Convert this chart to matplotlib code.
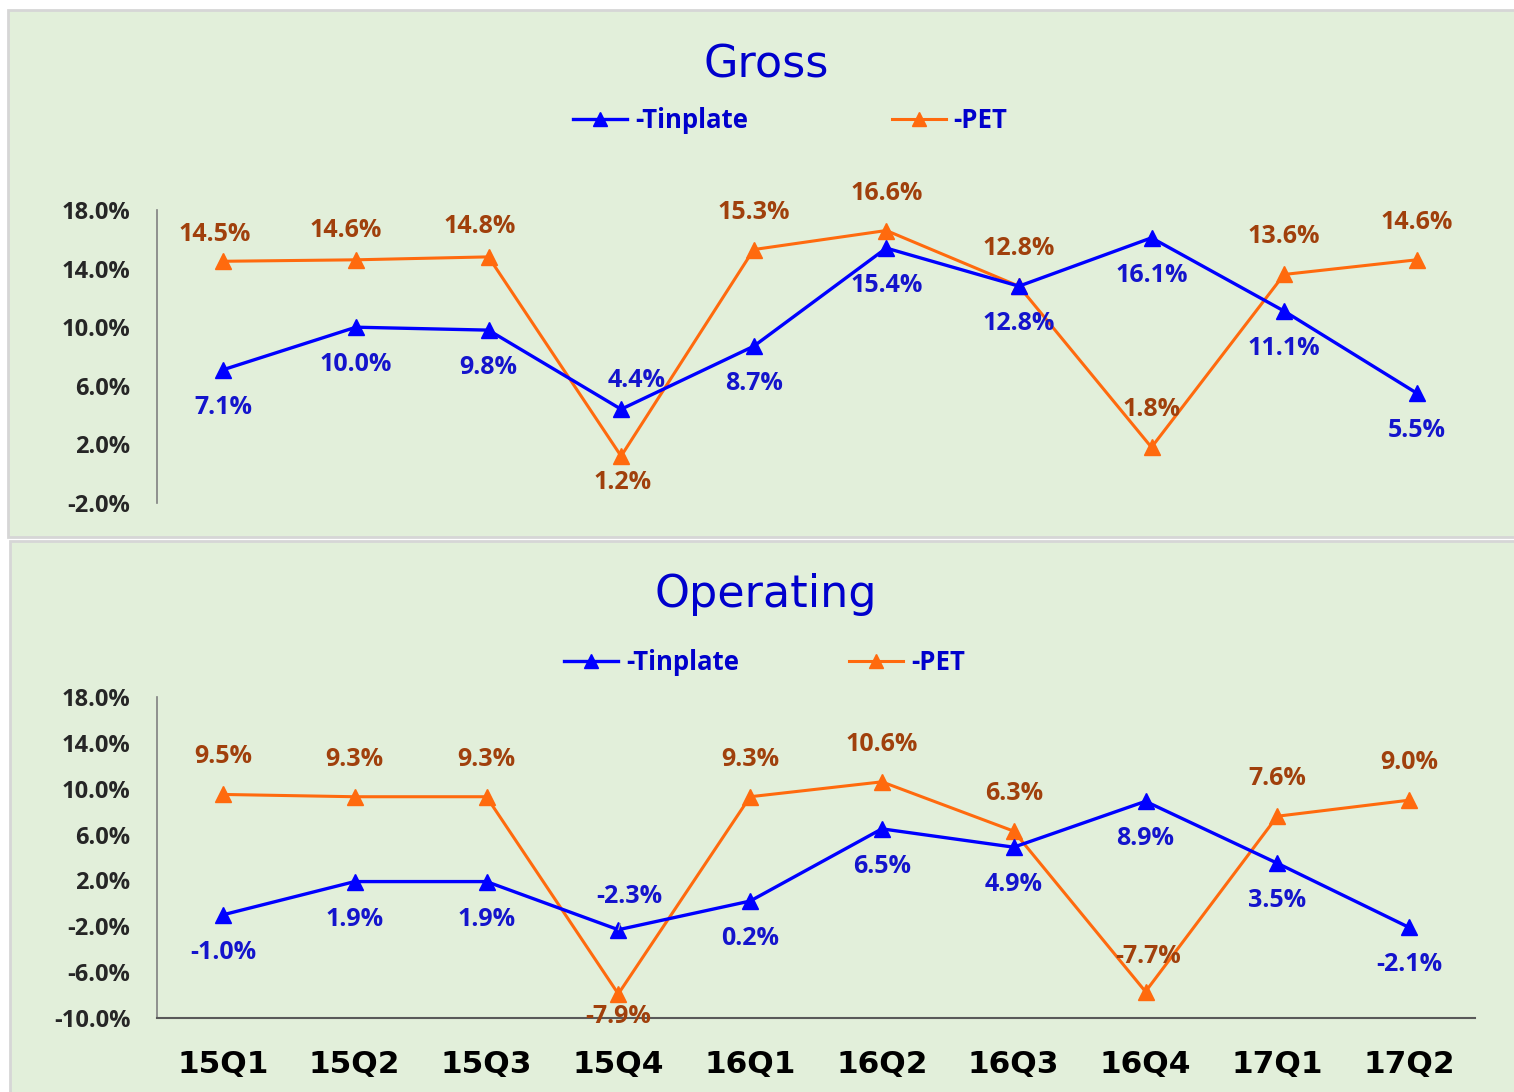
import matplotlib
matplotlib.use("Agg")
import matplotlib.pyplot as plt
from matplotlib.lines import Line2D
from matplotlib.patches import Rectangle

# data
quarters = ["15Q1", "15Q2", "15Q3", "15Q4", "16Q1", "16Q2", "16Q3", "16Q4", "17Q1", "17Q2"]
gross_tinplate = [7.1, 10.0, 9.8, 4.4, 8.7, 15.4, 12.8, 16.1, 11.1, 5.5]
gross_pet = [14.5, 14.6, 14.8, 1.2, 15.3, 16.6, 12.8, 1.8, 13.6, 14.6]
op_tinplate = [-1.0, 1.9, 1.9, -2.3, 0.2, 6.5, 4.9, 8.9, 3.5, -2.1]
op_pet = [9.5, 9.3, 9.3, -7.9, 9.3, 10.6, 6.3, -7.7, 7.6, 9.0]
gross_ticks = [-2, 2, 6, 10, 14, 18]
op_ticks = [-10, -6, -2, 2, 6, 10, 14, 18]

# label offsets (points) - most sit below/above, a few are moved
DN = (0, -27)
UP = (0, 27)
gross_tin_off = [DN, DN, DN, (11, 21), DN, DN, DN, DN, DN, DN]
gross_pet_off = [(-6, 19), (-7, 21), (-6, 22), (1, -19), UP, UP, UP, UP, UP, UP]
op_tin_off = [DN, DN, DN, (8, 24), DN, DN, DN, DN, DN, DN]
op_pet_off = [UP, UP, UP, (0, -16), UP, UP, UP, (2, 25), UP, UP]

BLUE = "#0000FF"
BLUE_TXT = "#1414CC"
ORANGE = "#FF6A0E"
BROWN = "#A0400C"
BG = "#E2EFDA"
NUM_FONT = "Open Sans"

W, H = 1514, 1092
fig = plt.figure(figsize=(W / 100, H / 100), dpi=100, facecolor="white")

# panel backgrounds
fig.patches.append(Rectangle((8 / W, 1 - 537 / H), 1.2, 527 / H, transform=fig.transFigure,
                             facecolor=BG, edgecolor="#D6D6D6", lw=2, zorder=-5))
fig.patches.append(Rectangle((10 / W, 1 - 1100 / H), 1.2, 559 / H, transform=fig.transFigure,
                             facecolor=BG, edgecolor="#D6D6D6", lw=2, zorder=-5))


def add_labels(ax, vals, offs, color):
    for i, v in enumerate(vals):
        dx, dy = offs[i]
        # moved labels get a thin leader line like the original
        arrow = None
        if dx > 5 and dy > 22:
            arrow = dict(arrowstyle="-", color="#A8A8A8", lw=0.9, shrinkA=9, shrinkB=6)
        ax.annotate(f"{v:.1f}%", (i, v), xytext=(dx, dy), textcoords="offset points",
                    ha="center", va="center", color=color, fontsize=18,
                    fontweight="bold", family=NUM_FONT, zorder=5, arrowprops=arrow)


def draw_panel(ax, tin, pet, ticks, tin_off, pet_off, title, title_y, leg_x, leg_y, colspace):
    x = range(len(quarters))
    ax.set_facecolor("none")
    ax.plot(x, tin, color=BLUE, lw=2.4, marker="^", ms=11, zorder=3, clip_on=False)
    ax.plot(x, pet, color=ORANGE, lw=2.2, marker="^", ms=11, zorder=2, clip_on=False)
    add_labels(ax, tin, tin_off, BLUE_TXT)
    add_labels(ax, pet, pet_off, BROWN)
    ax.set_xlim(-0.5, len(quarters) - 0.5)
    ax.set_ylim(ticks[0], ticks[-1])
    ax.set_yticks(ticks)
    ax.set_yticklabels([f"{t:.1f}%" for t in ticks], fontsize=17, fontweight="bold",
                       family=NUM_FONT, color="#262626")
    ax.tick_params(axis="y", length=0, pad=19)
    for s in ["top", "right"]:
        ax.spines[s].set_visible(False)
    ax.spines["left"].set_color("#808080")
    ax.spines["left"].set_linewidth(1.2)
    fig.text(0.506, title_y, title, ha="center", va="center", fontsize=32,
             color="#0000CC", family="DejaVu Sans")
    handles = [Line2D([], [], color=BLUE, lw=2.4, marker="^", ms=10),
               Line2D([], [], color=ORANGE, lw=2.2, marker="^", ms=10)]
    leg = ax.legend(handles, ["-Tinplate", "-PET"], ncol=2, loc="center",
                    bbox_to_anchor=(leg_x, leg_y), bbox_transform=fig.transFigure,
                    frameon=False, handlelength=2.1, handletextpad=0.3,
                    columnspacing=colspace,
                    prop={"family": NUM_FONT, "weight": "bold", "size": 18.5})
    for t in leg.get_texts():
        t.set_color("#0000CC")


ax1 = fig.add_axes([157 / W, 1 - 503 / H, 1326 / W, 293 / H])
draw_panel(ax1, gross_tinplate, gross_pet, gross_ticks, gross_tin_off, gross_pet_off,
           "Gross", 1 - 65 / H, 0.522, 1 - 120 / H, 5.6)
ax1.spines["bottom"].set_visible(False)
ax1.set_xticks([])

ax2 = fig.add_axes([157 / W, 1 - 1018 / H, 1318 / W, 321 / H])
draw_panel(ax2, op_tinplate, op_pet, op_ticks, op_tin_off, op_pet_off,
           "Operating", 1 - 595 / H, 0.505, 1 - 662 / H, 4.3)
ax2.spines["bottom"].set_color("#595959")
ax2.spines["bottom"].set_linewidth(1.5)
ax2.set_xticks(range(len(quarters)))
ax2.set_xticklabels(quarters, fontsize=22.5, fontweight="bold", family="DejaVu Sans",
                    color="black")
ax2.tick_params(axis="x", length=0, pad=23)

fig.savefig("out.png", dpi=100, facecolor="white")
